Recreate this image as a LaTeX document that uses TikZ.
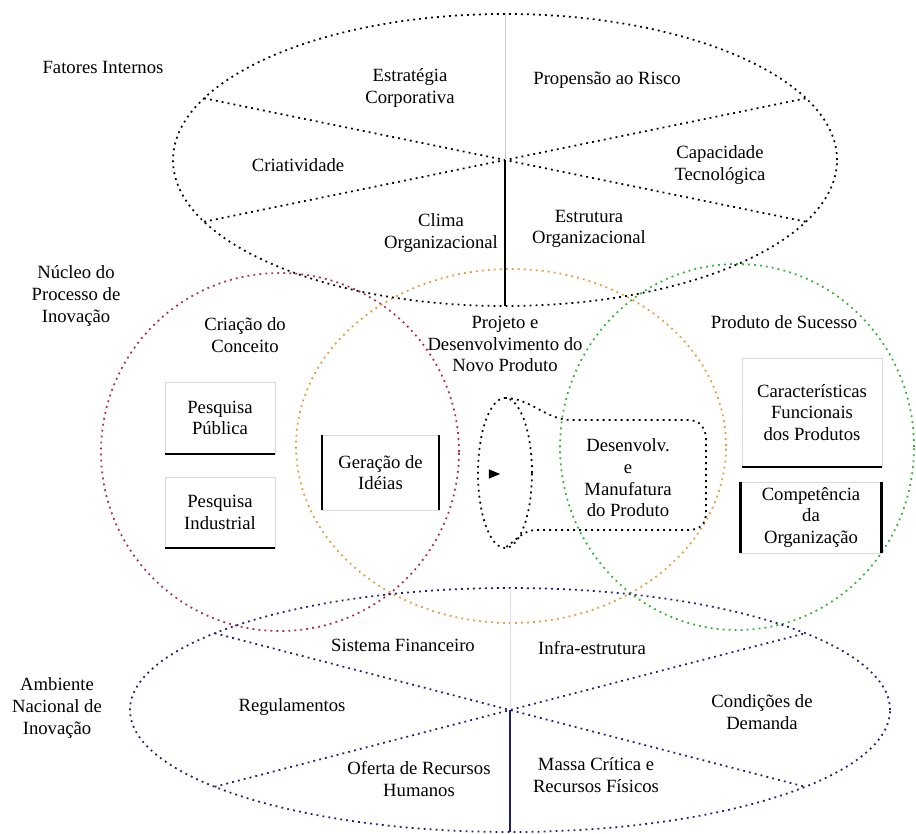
\documentclass[tikz,border=0pt]{standalone}
\usepackage{fontspec}
\setmainfont{Liberation Serif}
\usetikzlibrary{shapes.geometric,calc}
\definecolor{redc}{RGB}{175,45,70}
\definecolor{orac}{RGB}{230,155,60}
\definecolor{grnc}{RGB}{50,180,50}
\definecolor{navc}{RGB}{30,30,120}
\begin{document}
\begin{tikzpicture}[x=0.75pt,y=-0.75pt,
  outline/.style={line width=1.3pt, dash pattern=on 1.4pt off 3.1pt},
  ring/.style={outline, ellipse, inner sep=0pt, outer sep=0pt},
  lbl/.style={align=center, font=\fontsize{14}{16.3}\selectfont, inner sep=1pt},
  boxframe/.style={draw=black!15, line width=0.5pt, inner sep=0pt, outer sep=0pt,
    align=center, font=\fontsize{14}{16.3}\selectfont},
  heavy/.style={line width=1.6pt},
]
\useasboundingbox (0,0) rectangle (916,834);

% --- core circles of the innovation process
\node[ring, draw=redc, minimum width=268.5pt, minimum height=268.5pt] (cc) at (280,452) {};
\node[ring, draw=orac, minimum width=322.5pt, minimum height=265.5pt] (pd) at (511,446) {};
\node[ring, draw=grnc, minimum width=265.5pt, minimum height=274.5pt] (ps) at (737,447) {};

% --- internal factors ellipse, split in six sectors
\node[ring, draw=black, minimum width=498pt, minimum height=219pt] (fi) at (505,160) {};
\draw[outline] ($(fi.center)+(155:249pt and 109.5pt)$) -- ($(fi.center)+(-25:249pt and 109.5pt)$);
\draw[outline] ($(fi.center)+(205:249pt and 109.5pt)$) -- ($(fi.center)+(25:249pt and 109.5pt)$);
\draw[black!20, line width=0.6pt] (fi.north) -- (fi.center);
\draw[line width=1.3pt] (fi.center) -- (fi.south);

% --- national innovation environment ellipse
\node[ring, draw=navc, minimum width=570pt, minimum height=183pt] (ani) at (510,710) {};
\draw[outline, navc] ($(ani.center)+(141:285pt and 91.5pt)$) -- ($(ani.center)+(-39:285pt and 91.5pt)$);
\draw[outline, navc] ($(ani.center)+(219:285pt and 91.5pt)$) -- ($(ani.center)+(39:285pt and 91.5pt)$);
\draw[navc!15, line width=0.6pt] (ani.north) -- (ani.center);
\draw[navc, line width=1.3pt] (ani.center) -- (ani.south);

% --- side titles
\node[lbl] (t1) at (103,67) {Fatores Internos};
\node[lbl] (t2) at (76,296) {Núcleo do\\Processo de\\Inovação};
\node[lbl] (t3) at (57,708) {Ambiente\\Nacional de\\Inovação};

% --- internal factors
\node[lbl] (f1) at (410,88) {Estratégia\\Corporativa};
\node[lbl] (f2) at (607,80) {Propensão ao Risco};
\node[lbl] (f3) at (298,165) {Criatividade};
\node[lbl] (f4) at (720,165) {Capacidade\\Tecnológica};
\node[lbl] (f5) at (441,233) {Clima\\Organizacional};
\node[lbl] (f6) at (589,229) {Estrutura\\Organizacional};

% --- circle titles
\node[lbl] (c1) at (245,335) {Criação do\\Conceito};
\node[lbl] (c2) at (505,344) {Projeto e\\Desenvolvimento do\\Novo Produto};
\node[lbl] (c3) at (784,322) {Produto de Sucesso};

% --- boxes
\node[boxframe, minimum width=82.5pt, minimum height=54pt] (pp) at (220,418) {Pesquisa\\Pública};
\draw[heavy] (pp.south west) -- (pp.south east);
\node[boxframe, minimum width=82.5pt, minimum height=53.25pt] (pi) at (220,512.5) {Pesquisa\\Industrial};
\draw[heavy] (pi.south west) -- (pi.south east);
\node[boxframe, minimum width=87.75pt, minimum height=56.25pt] (gi) at (380.5,472.5) {Geração de\\Idéias};
\draw[heavy] (gi.north west) -- (gi.south west);
\draw[heavy] (gi.north east) -- (gi.south east);
\node[boxframe, minimum width=105pt, minimum height=81.75pt] (cf) at (812,412.5) {Características\\Funcionais\\dos Produtos};
\draw[heavy] (cf.south west) -- (cf.south east);
\node[boxframe, minimum width=105.75pt, minimum height=53.25pt] (co) at (811,517.5) {Competência\\da\\Organização};
\draw[heavy] (co.north west) -- (co.south west);
\draw[heavy] (co.north east) -- (co.south east);

% --- development and manufacturing pipe
\node[outline, draw, ellipse, inner sep=0pt, outer sep=0pt, minimum width=40.5pt, minimum height=112.5pt] (pe) at (505,473) {};
\draw[outline] (pe.north) .. controls (530,398) and (545,419) .. (570,420) -- (688,420)
  .. controls (700,420) and (706,428) .. (706,440) -- (706,512)
  .. controls (706,524) and (700,530) .. (688,530) -- (536,530)
  .. controls (524,530) and (516,540) .. (pe.south);
\node[fill=black, isosceles triangle, inner sep=0pt, minimum height=6pt, minimum width=7pt] (tri) at (492,474) {};
\node[lbl] (dm) at (628,478) {Desenvolv.\\e\\Manufatura\\do Produto};

% --- national environment
\node[lbl] (a1) at (403,645) {Sistema Financeiro};
\node[lbl] (a2) at (592,648) {Infra-estrutura};
\node[lbl] (a3) at (292,707) {Regulamentos};
\node[lbl] (a4) at (762,712) {Condições de\\Demanda};
\node[lbl] (a5) at (419,779) {Oferta de Recursos\\Humanos};
\node[lbl] (a6) at (596,775) {Massa Crítica e\\Recursos Físicos};
\end{tikzpicture}
\end{document}
